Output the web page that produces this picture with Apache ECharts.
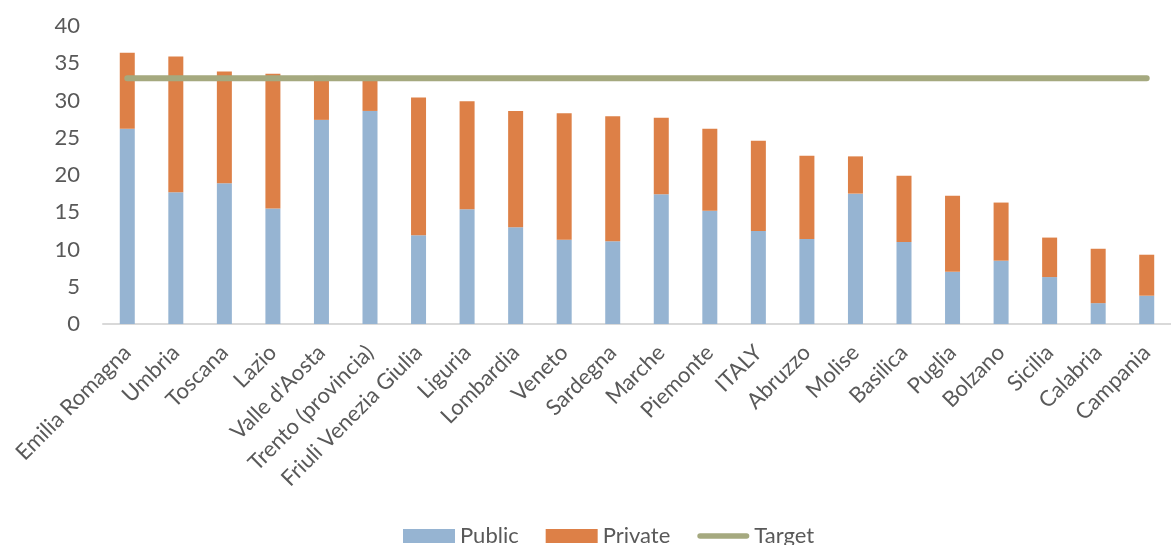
<!DOCTYPE html>
<html>
<head>
<meta charset="utf-8">
<script src="https://cdn.jsdelivr.net/npm/echarts@6/dist/echarts.min.js"></script>
<style>
html,body{margin:0;padding:0;background:#fff;}
#chart{width:1171px;height:545px;}
</style>
</head>
<body>
<div id="chart"></div>
<script>
const categories = ["Emilia Romagna","Umbria","Toscana","Lazio","Valle d'Aosta","Trento (provincia)","Friuli Venezia Giulia","Liguria","Lombardia","Veneto","Sardegna","Marche","Piemonte","ITALY","Abruzzo","Molise","Basilica","Puglia","Bolzano","Sicilia","Calabria","Campania"];
const publicVals = [26.2,17.7,18.9,15.5,27.4,28.6,11.9,15.4,13.0,11.3,11.1,17.4,15.2,12.5,11.4,17.5,11.0,7.0,8.5,6.3,2.8,3.8];
const privateVals = [10.2,18.2,15.0,18.1,5.9,4.3,18.5,14.5,15.6,17.0,16.8,10.3,11.0,12.1,11.2,5.0,8.9,10.2,7.8,5.3,7.3,5.5];
const targetVals = [33,33,33,33,33,33,33,33,33,33,33,33,33,33,33,33,33,33,33,33,33,33];
const yTicks = [0,5,10,15,20,25,30,35,40];

const FONT = 'Lato';
const TXT = '#595959';
const chart = echarts.init(document.getElementById('chart'));
chart.setOption({
  animation: false,
  grid: {left: 103, width: 1082, top: 26, height: 298, containLabel: false},
  legend: {
    left: 398, top: 520,
    itemWidth: 52, itemHeight: 14, itemGap: 27,
    textStyle: {fontFamily: FONT, fontSize: 22, color: TXT},
    data: [
      {name: 'Public', icon: 'rect'},
      {name: 'Private', icon: 'rect'},
      {name: 'Target', icon: 'path://M3,0L53,0A3,3,0,0,1,53,6L3,6A3,3,0,0,1,3,0Z'}
    ]
  },
  xAxis: {
    type: 'category',
    data: categories,
    axisLine: {lineStyle: {color: '#d9d9d9', width: 2}},
    axisTick: {show: false},
    axisLabel: {
      interval: 0, rotate: 45, margin: 25,
      fontFamily: FONT, fontSize: 22, color: TXT
    }
  },
  yAxis: {
    type: 'value',
    min: yTicks[0], max: yTicks[yTicks.length-1], interval: 5,
    splitLine: {show: false},
    axisLine: {show: false},
    axisTick: {show: false},
    axisLabel: {margin: 23, fontFamily: FONT, fontSize: 22, color: TXT}
  },
  series: [
    {name: 'Public', type: 'bar', stack: 'a', barWidth: 15, data: publicVals,
     itemStyle: {color: '#96B4D2'}},
    {name: 'Private', type: 'bar', stack: 'a', barWidth: 15, data: privateVals,
     itemStyle: {color: '#DD8047'}},
    {name: 'Target', type: 'line', data: targetVals, symbol: 'none', z: 5,
     lineStyle: {color: '#A5A97F', width: 6, cap: 'round'},
     itemStyle: {color: '#A5A97F'}}
  ]
});
</script>
</body>
</html>
